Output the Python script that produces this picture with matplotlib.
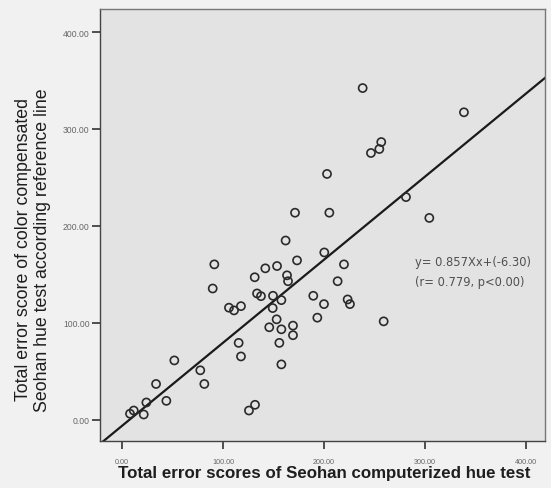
import numpy as np
import matplotlib
matplotlib.use("Agg")
import matplotlib.pyplot as plt

plt.rcParams["font.family"] = ["Liberation Sans", "DejaVu Sans"]

# ======= Dane =======
x_seohan = [238.3, 338.6, 256.7, 254.8, 246.5, 203.0, 281.2, 171.3, 205.3, 304.3,
            162.0, 200.3, 91.4, 173.3, 219.8, 141.9, 153.5, 131.4, 163.4, 164.4,
            213.5, 89.8, 133.7, 137.6, 149.5, 157.8, 189.4, 200.0, 223.4, 225.7,
            105.9, 110.9, 117.8, 149.2, 193.4, 259.1, 153.1, 145.8, 157.8, 169.3,
            169.3, 115.5, 155.8, 117.8, 157.8, 51.8, 77.5, 81.5, 33.7, 43.9,
            24.1, 11.6, 7.9, 21.5, 125.7, 131.7]
y_compensated = [342.2, 317.2, 286.5, 279.3, 275.2, 253.6, 229.7, 213.6, 213.6, 208.2,
                 184.9, 172.6, 160.3, 164.4, 160.3, 156.2, 158.6, 147.0, 149.0, 142.9,
                 142.9, 135.4, 130.3, 127.5, 127.9, 123.4, 127.9, 119.3, 124.1, 119.3,
                 115.6, 112.8, 117.2, 115.2, 105.3, 101.5, 103.6, 95.4, 93.3, 97.1,
                 87.2, 79.3, 79.3, 65.3, 57.1, 61.2, 51.0, 36.9, 36.9, 19.5,
                 17.8, 9.5, 6.2, 5.4, 9.5, 15.4]

slope = 0.857
intercept = -6.30
ticks = [0, 100, 200, 300, 400]
tick_labels = ["0.00", "100.00", "200.00", "300.00", "400.00"]

# ======= Wykres =======
fig = plt.figure(figsize=(5.51, 4.89), dpi=100)
fig.patch.set_facecolor("#f1f1f1")
ax = fig.add_axes([0.1815, 0.096, 0.8075, 0.884])
ax.set_facecolor("#e3e3e3")

xlim = (-21.8, 418.8)
ylim = (-22, 424)
ax.set_xlim(*xlim)
ax.set_ylim(*ylim)

ax.scatter(x_seohan, y_compensated, s=34, facecolors="none",
           edgecolors="#2a2a2a", linewidths=1.2, zorder=3)

xx = np.array(xlim, dtype=float)
ax.plot(xx, slope * xx + intercept, color="#1a1a1a", lw=1.6, zorder=2)

# równanie regresji (w ułamkach figury)
fig.text(0.753, 0.463, "y= 0.857Xx+(-6.30)", fontsize=8.3, color="#505050",
         family="DejaVu Sans", va="center", ha="left")
fig.text(0.753, 0.422, "(r= 0.779, p<0.00)", fontsize=8.3, color="#505050",
         family="DejaVu Sans", va="center", ha="left")

ax.set_xticks(ticks)
ax.set_xticklabels(tick_labels)
ax.set_yticks(ticks)
ax.set_yticklabels(tick_labels)
ax.tick_params(axis="both", labelcolor="#666666", color="#333333",
               length=6, width=1.2, direction="out")
ax.tick_params(axis="x", labelsize=5.2, pad=6)
ax.tick_params(axis="y", labelsize=6.2, pad=1.5)

for sp in ax.spines.values():
    sp.set_color("#777777")
    sp.set_linewidth(1.0)
ax.spines["left"].set_color("#444444")
ax.spines["bottom"].set_color("#444444")

ax.set_xlabel("Total error scores of Seohan computerized hue test",
              fontsize=12.2, fontweight="bold", color="#1e1e1e")
ax.xaxis.set_label_coords(0.503, -0.056)
ax.set_ylabel("Total error score of color compensated\nSeohan hue test according reference line",
              fontsize=12.8, color="#1e1e1e", linespacing=1.1)
ax.yaxis.set_label_coords(-0.111, 0.445)

plt.savefig("out.png", dpi=100, facecolor=fig.get_facecolor())
plt.close()
